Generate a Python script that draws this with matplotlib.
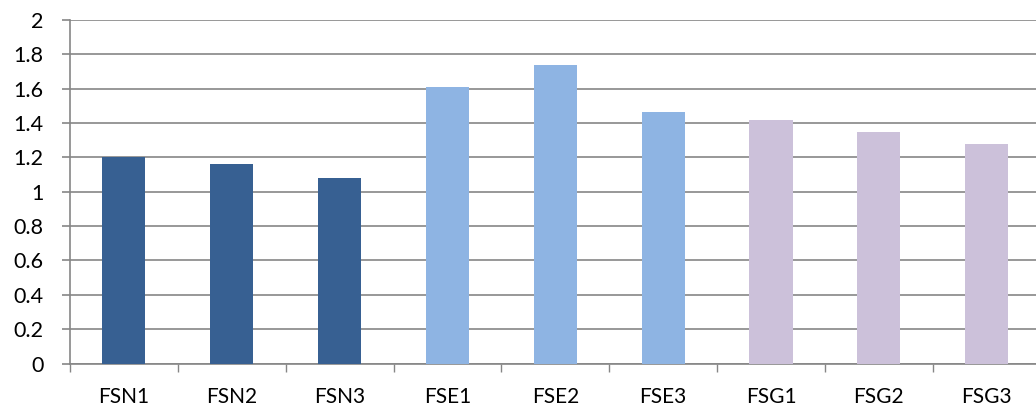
import numpy as np
import matplotlib.pyplot as plt

labels = ['FSN1', 'FSN2', 'FSN3', 'FSE1', 'FSE2', 'FSE3', 'FSG1', 'FSG2', 'FSG3']
values = [1.20, 1.16, 1.08, 1.61, 1.74, 1.465, 1.42, 1.345, 1.28]
colors = ['#376092'] * 3 + ['#8EB4E3'] * 3 + ['#CCC1DA'] * 3

plt.rcParams['font.family'] = ['Lato', 'DejaVu Sans']
grey = '#868686'

fig = plt.figure(figsize=(10.36, 4.12), dpi=100)
ax = fig.add_axes([70 / 1036, 48.5 / 412, 970.6 / 1036, 343.5 / 412])

x = np.arange(len(labels))
ax.bar(x, values, width=0.4, color=colors, zorder=3)

ax.set_xlim(-0.5, len(labels) - 0.5)
ax.set_ylim(0, 2)
ax.set_yticks(np.arange(0, 2.01, 0.2))
ax.set_yticklabels(['0', '0.2', '0.4', '0.6', '0.8', '1', '1.2', '1.4', '1.6', '1.8', '2'])
ax.yaxis.grid(True, color=grey, linewidth=1.2, zorder=0)

ax.set_xticks(np.arange(-0.5, len(labels), 1.0))
ax.set_xticklabels([])
ax.set_xticks(x, labels=labels, minor=True)
ax.tick_params(axis='x', which='major', direction='out', length=6, color=grey, width=1)
ax.tick_params(axis='x', which='minor', length=0, pad=17, labelsize=15)
ax.tick_params(axis='y', direction='out', length=6, color=grey, width=1.2, pad=13, labelsize=15.5)

for s in ['top', 'right']:
    ax.spines[s].set_visible(False)
for s in ['left', 'bottom']:
    ax.spines[s].set_color(grey)
    ax.spines[s].set_linewidth(1.2)

fig.savefig('out.png', dpi=100)
